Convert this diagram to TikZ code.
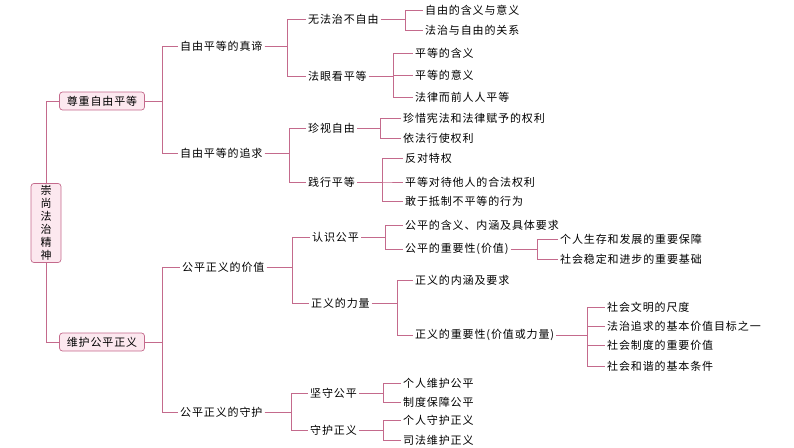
\documentclass[tikz,border=0pt]{standalone}
\usepackage{fontspec}
\setmainfont{Noto Sans CJK SC}[LetterSpace=8]
\definecolor{linkpink}{HTML}{C46A8C}
\definecolor{boxpink}{HTML}{FCE8EF}
\tikzset{
  topic/.style={draw=linkpink, fill=boxpink, rounded corners=3pt, line width=0.7pt, inner sep=2pt, font=\fontsize{11}{12}\selectfont},
  item/.style={anchor=west, inner sep=2pt, font=\fontsize{11}{12}\selectfont},
  link/.style={draw=linkpink, line width=0.8pt}
}
\begin{document}
\begin{tikzpicture}[x=1pt, y=-1pt]
  \useasboundingbox (0,0) rectangle (794,447);
  % root and main topics
  \node [topic, name=root, minimum width=30pt, minimum height=78pt, align=center, font=\fontsize{11}{13}\selectfont] at (46,223) {崇\\尚\\法\\治\\精\\神};
  \node [topic, name=free, minimum width=85pt, minimum height=18pt] at (102,101) {尊重自由平等};
  \node [topic, name=just, minimum width=85pt, minimum height=18pt] at (102,342) {维护公平正义};

  % second level
  \node [item, name=truth] at (178,46) {自由平等的真谛};
  \node [item, name=pursue] at (178,153) {自由平等的追求};
  \node [item, name=value] at (180,267) {公平正义的价值};
  \node [item, name=guard] at (178,412) {公平正义的守护};

  % third level
  \node [item, name=nolaw] at (306,19) {无法治不自由};
  \node [item, name=lawsee] at (306,76) {法眼看平等};
  \node [item, name=cherish] at (306,128) {珍视自由};
  \node [item, name=practice] at (306,182) {践行平等};
  \node [item, name=knowfair] at (310,237) {认识公平};
  \node [item, name=force] at (309,303) {正义的力量};
  \node [item, name=keepfair] at (308,393) {坚守公平};
  \node [item, name=keepjust] at (308,430) {守护正义};

  % leaves
  \node [item, name=f1] at (423,10) {自由的含义与意义};
  \node [item, name=f2] at (423,30) {法治与自由的关系};
  \node [item, name=e1] at (413,53) {平等的含义};
  \node [item, name=e2] at (413,75) {平等的意义};
  \node [item, name=e3] at (413,97) {法律而前人人平等};
  \node [item, name=c1] at (401,118) {珍惜宪法和法律赋予的权利};
  \node [item, name=c2] at (401,138) {依法行使权利};
  \node [item, name=p1] at (403,158) {反对特权};
  \node [item, name=p2] at (403,182) {平等对待他人的合法权利};
  \node [item, name=p3] at (403,201) {敢于抵制不平等的行为};
  \node [item, name=k1] at (403,225) {公平的含义、内涵及具体要求};
  \node [item, name=k2] at (403,249) {公平的重要性(价值)};
  \node [item, name=k21] at (558,239) {个人生存和发展的重要保障};
  \node [item, name=k22] at (558,259) {社会稳定和进步的重要基础};
  \node [item, name=j1] at (413,280) {正义的内涵及要求};
  \node [item, name=j2] at (413,335) {正义的重要性(价值或力量)};
  \node [item, name=j21] at (605,307) {社会文明的尺度};
  \node [item, name=j22] at (605,326) {法治追求的基本价值目标之一};
  \node [item, name=j23] at (605,345) {社会制度的重要价值};
  \node [item, name=j24] at (605,366) {社会和谐的基本条件};
  \node [item, name=g1] at (401,383) {个人维护公平};
  \node [item, name=g2] at (401,402) {制度保障公平};
  \node [item, name=g3] at (401,420) {个人守护正义};
  \node [item, name=g4] at (401,440) {司法维护正义};

  % fork points
  \coordinate (xroot) at (46,0);
  \coordinate (xmain) at (162,0);
  \coordinate (xtruth) at (287,0);
  \coordinate (xpursue) at (289,0);
  \coordinate (xvalue) at (292,0);
  \coordinate (xguard) at (291,0);

  % connectors
  \draw [link] (root.north) |- (free.west);
  \draw [link] (root.south) |- (just.west);
  \foreach \p/\c in {free/truth, free/pursue, just/value, just/guard}
    \draw [link] (\p.east) -- (xmain |- \p.east) |- (\c.west);
  \foreach \c in {nolaw, lawsee} \draw [link] (truth.east) -- (xtruth |- truth.east) |- (\c.west);
  \foreach \c in {cherish, practice} \draw [link] (pursue.east) -- (xpursue |- pursue.east) |- (\c.west);
  \foreach \c in {knowfair, force} \draw [link] (value.east) -- (xvalue |- value.east) |- (\c.west);
  \foreach \c in {keepfair, keepjust} \draw [link] (guard.east) -- (xguard |- guard.east) |- (\c.west);
  \foreach \p/\x/\c in {nolaw/405/f1, nolaw/405/f2, lawsee/393/e1, lawsee/393/e2, lawsee/393/e3,
      cherish/380/c1, cherish/380/c2, practice/382/p1, practice/382/p2, practice/382/p3,
      knowfair/385/k1, knowfair/385/k2, k2/537/k21, k2/537/k22, force/397/j1, force/397/j2,
      j2/587/j21, j2/587/j22, j2/587/j23, j2/587/j24,
      keepfair/383/g1, keepfair/383/g2, keepjust/383/g3, keepjust/383/g4}
    \draw [link] (\p.east) -- (\x,0 |- \p.east) |- (\c.west);
\end{tikzpicture}
\end{document}
